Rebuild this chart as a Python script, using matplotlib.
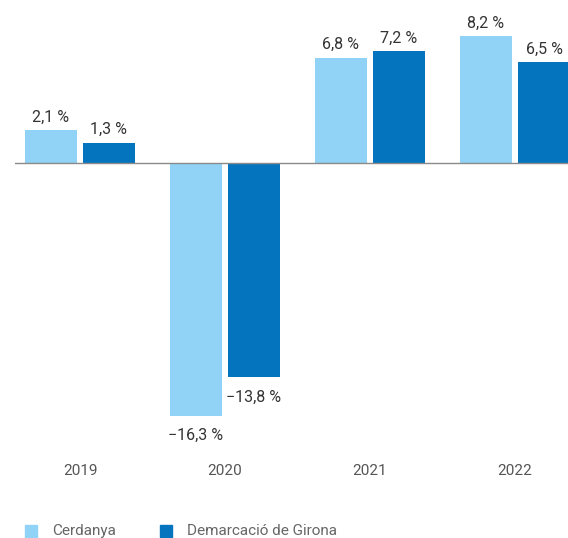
import matplotlib
matplotlib.use("Agg")
import matplotlib.pyplot as plt
from matplotlib.patches import Rectangle
import numpy as np

plt.rcParams['font.family'] = ['Roboto', 'DejaVu Sans']

years = ["2019", "2020", "2021", "2022"]
cerdanya = [2.1, -16.3, 6.8, 8.2]
girona = [1.3, -13.8, 7.2, 6.5]
series_names = ["Cerdanya", "Demarcació de Girona"]

LIGHT = "#91d3f7"
DARK = "#0574bf"
TXT = "#333333"

W, H = 568, 538
fig = plt.figure(figsize=(W / 100, H / 100), dpi=100)
# axes placed in pixel terms: left at 15px, top at 0, bottom at 440px
ax = fig.add_axes([15 / W, (H - 440) / H, 1 - 15 / W, 440 / H])

x = np.arange(len(years))
bw = 0.359
off = 0.2
ax.bar(x - off, cerdanya, bw, color=LIGHT, zorder=2)
ax.bar(x + off, girona, bw, color=DARK, zorder=2)
ax.axhline(0, color="#8a8a8a", lw=1.0, zorder=3)

ax.set_xlim((15 - 80) / 145, (568 - 80) / 145)
ax.set_ylim(-(440 - 163) / 15.5, 163 / 15.5)

def fmt(v):
    s = f"{abs(v):.1f}".replace(".", ",") + " %"
    return ("\u2212" + s) if v < 0 else s

for xs, vals in ((x - off, cerdanya), (x + off, girona)):
    for xi, v in zip(xs, vals):
        if v >= 0:
            ax.annotate(fmt(v), (xi, v), xytext=(0, 4), textcoords="offset points",
                        ha="center", va="bottom", fontsize=11.5, color=TXT)
        else:
            ax.annotate(fmt(v), (xi, v), xytext=(0, -9), textcoords="offset points",
                        ha="center", va="top", fontsize=11.5, color=TXT)

for xi, yr in zip(x, years):
    ax.text(xi, -(471 - 163) / 15.5, yr, ha="center", va="center",
            fontsize=11, color="#555555", clip_on=False)

ax.axis("off")

# legend at the bottom
for px, col, name in ((25, LIGHT, series_names[0]), (160, DARK, series_names[1])):
    fig.patches.append(Rectangle((px / W, (H - 537) / H), 12 / W, 12 / H,
                                 transform=fig.transFigure, color=col))
    fig.text((px + 27) / W, (H - 531) / H, name, ha="left", va="center",
             fontsize=11, color="#666666")

fig.savefig("out.png", dpi=100)
